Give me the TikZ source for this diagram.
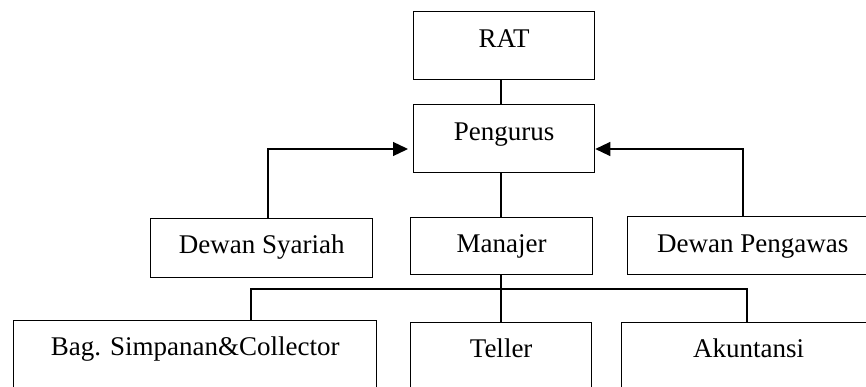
\documentclass[tikz,border=0pt]{standalone}
\usepackage{fontspec}
\setmainfont{Liberation Serif}
\usetikzlibrary{arrows.meta}
\begin{document}
\begin{tikzpicture}[x=1pt,y=-1pt,line width=1.3pt,
  box/.style={draw, rectangle, inner sep=0pt, anchor=north west,
    font=\fontsize{27}{32}\selectfont},
  arr/.style={-{Triangle[length=15pt,width=14pt]}}]
\useasboundingbox (0,0) rectangle (866,387);
\clip (0,0) rectangle (866,387);
% top
\node[box, minimum width=181pt, text height=36pt, text depth=32pt] (rat) at (413,11) {RAT};
\node[box, minimum width=181pt, text height=36pt, text depth=32pt] (peng) at (413,104) {Pengurus};
% middle row
\node[box, minimum width=222pt, text height=35pt, text depth=24pt] (ds) at (150,218) {Dewan Syariah};
\node[box, minimum width=182pt, text height=35pt, text depth=22pt] (man) at (410,217) {Manajer};
\node[box, minimum width=250pt, text height=36pt, text depth=22pt] (dp) at (627,216) {Dewan Pengawas};
% bottom row (extends below the picture's edge)
\node[box, minimum width=363pt, text height=35pt, text depth=40pt] (bag) at (13,320) {Bag. Simpanan\&Collector};
\node[box, minimum width=181pt, text height=35pt, text depth=38pt] (tel) at (410,322) {Teller};
\node[box, minimum width=254pt, text height=35pt, text depth=38pt] (ak) at (621,322) {Akuntansi};
% guide coordinates
\coordinate (vx) at (501,0);
\coordinate (lx) at (268,149);
\coordinate (rx) at (743,149);
\coordinate (busL) at (251,289);
\coordinate (busR) at (747,289);
% connectors
\draw (rat.south -| vx) -- (peng.north -| vx);
\draw (peng.south -| vx) -- (man.north -| vx);
\draw[arr, shorten >=5pt] (ds.north -| lx) |- (peng.west |- lx);
\draw[arr] (dp.north -| rx) |- (peng.east |- rx);
\draw (man.south -| vx) -- (tel.north -| vx);
\draw (bag.north -| busL) |- (busR) -- (ak.north -| busR);
\end{tikzpicture}
\end{document}
